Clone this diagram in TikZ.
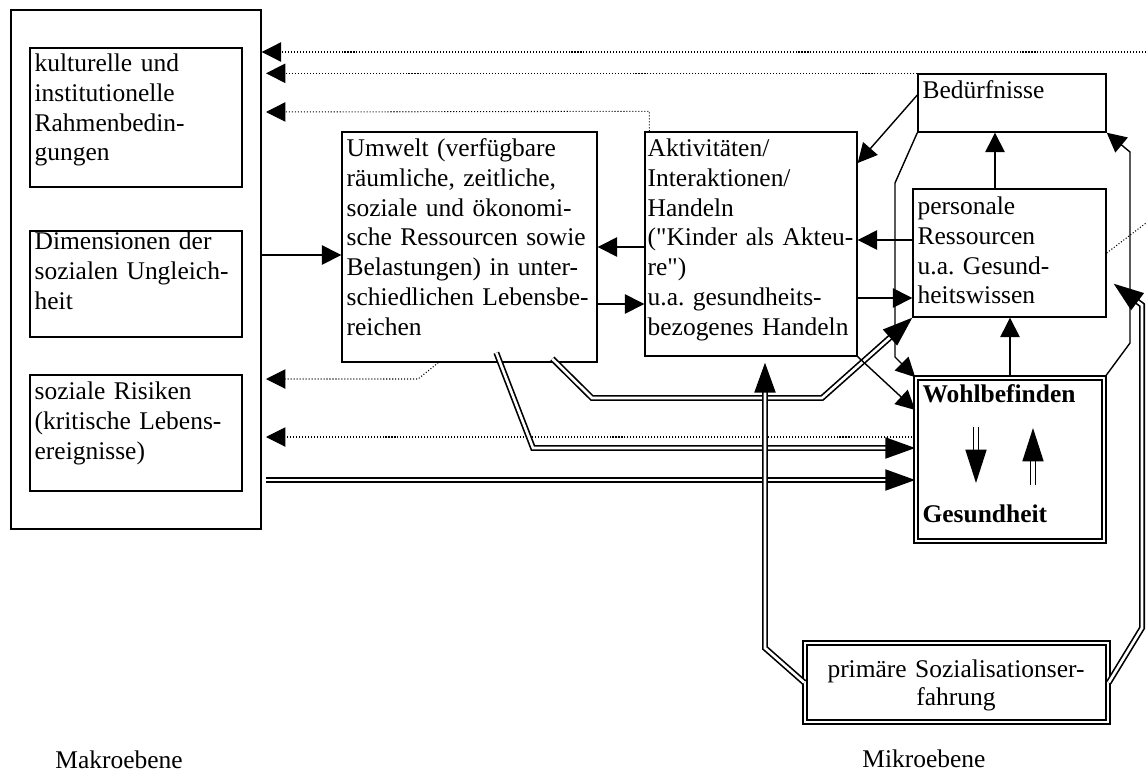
\documentclass[tikz,border=0pt]{standalone}
\usepackage{fontspec}
\setmainfont{Liberation Serif}[Ligatures=TeXOff]
\usetikzlibrary{arrows.meta,calc,fit}
\frenchspacing

\begin{document}
\begin{tikzpicture}[x=0.02cm, y=-0.02cm,
    box/.style={draw, line width=0.8pt, inner sep=0pt},
    dbox/.style={draw, line width=0.9pt, double, double distance=1.5pt, inner sep=0pt},
    txt/.style={anchor=base west, inner sep=0pt, align=left, text width=#1,
      font=\fontsize{14.5}{17}\selectfont},
    arr/.style={line width=0.8pt, -{Triangle[length=11pt, width=11pt]}},
    dotarr/.style={line width=0.6pt, dash pattern=on 0.6pt off 1.1pt,
      -{Triangle[length=11pt, width=11pt]}},
    dline/.style={line width=0.95pt, double, double distance=1.5pt},
    darr/.style={dline, -{Triangle[length=17pt, width=12pt]}},
  ]
  \useasboundingbox (0,0) rectangle (1146,771);

  % Makroebene
  \node[box, fit={(11,10)(261,529)}] (makro) {};
  \node[box, fit={(30,48)(242,187)}] (kultur) {};
  \node[txt=4.2cm] (kultur-t) at ([shift={(5,24)}]kultur.north west)
    {kulturelle und\\institutionelle\\Rahmenbedin-\\gungen};
  \node[box, fit={(30,231)(242,337)}] (dimen) {};
  \node[txt=4.2cm] (dimen-t) at ([shift={(5,19)}]dimen.north west)
    {Dimensionen der\\sozialen Ungleich-\\heit};
  \node[box, fit={(30,375)(242,491)}] (risiko) {};
  \node[txt=4.2cm] (risiko-t) at ([shift={(5,25)}]risiko.north west)
    {soziale Risiken\\(kritische Lebens-\\ereignisse)};

  % Umwelt und Handeln
  \node[box, fit={(342,132)(597,362)}] (umwelt) {};
  \node[txt=5.1cm] (umwelt-t) at ([shift={(5,25)}]umwelt.north west)
    {Umwelt (verfügbare\\räumliche, zeitliche,\\soziale und ökonomi-\\sche Ressourcen sowie\\Belastungen) in unter-\\schiedlichen Lebensbe-\\reichen};
  \node[box, fit={(645,132)(857,356)}] (akt) {};
  \node[txt=4.2cm] (akt-t) at ([shift={(3,25)}]akt.north west)
    {Aktivitäten/\\Interaktionen/\\Handeln\\("Kinder als Akteu-\\re")\\u.a. gesundheits-\\bezogenes Handeln};

  % Mikroebene
  \node[box, fit={(918,74)(1106,132)}] (bed) {};
  \node[txt=3.7cm] (bed-t) at ([shift={(5,25)}]bed.north west) {Bedürfnisse};
  \node[box, fit={(913,189)(1106,317)}] (pers) {};
  \node[txt=3.8cm] (pers-t) at ([shift={(5,26)}]pers.north west)
    {personale\\Ressourcen\\u.a. Gesund-\\heitswissen};
  \node[dbox, fit={(916,378)(1104,541)}] (wohl) {};
  \node[txt=3.6cm, font=\fontsize{14.5}{17}\selectfont\bfseries] (wohl-t) at ([shift={(7,25)}]wohl.north west) {Wohlbefinden};
  \node[txt=3.6cm, font=\fontsize{14.5}{17}\selectfont\bfseries] (ges-t) at ([shift={(7,145)}]wohl.north west) {Gesundheit};
  \node[dbox, fit={(805,643)(1108,722)}] (prim) {};
  \node[anchor=base, inner sep=0pt, align=center, text width=5.8cm,
    font=\fontsize{14.5}{16}\selectfont] (prim-t) at (956,677)
    {primäre Sozialisationser-\\fahrung};

  \node[txt=3cm] (makro-t) at (55,768) {Makroebene};
  \node[txt=3cm] (mikro-t) at (862,767) {Mikroebene};

  % Rueckwirkungen (gepunktet)
  \coordinate (rueck) at (266,0);
  \coordinate (rand1) at (1146,52);
  \coordinate (rand2) at (1146,223);
  \draw[dotarr] (rand1) -- (makro.east |- rand1);
  \draw[dotarr] (bed.north west) -- (rueck |- bed.north west);
  \draw[dotarr] ($(akt.north west)+(5,0)$) -- ++(0,-20) -- (rueck |- 0,112);
  \draw[dotarr] ($(umwelt.south west)+(97,0)$) -- (418,379) -- (rueck |- 0,379);
  \draw[dotarr] (wohl.west |- 0,437) -- (rueck |- 0,437);
  \draw[line width=0.6pt, dash pattern=on 0.6pt off 1.1pt] (pers.east |- 0,253) -- (rand2);

  % Doppellinien
  \draw[darr] (rueck |- 0,480) -- (wohl.west |- 0,480);
  \draw[darr] ($(umwelt.south west)+(155,-10)$) -- (533,448) -- (wohl.west |- 0,448);
  \draw[darr] ($(umwelt.south west)+(211,-4)$) -- (592,398) -- (822,398) -- (pers.south west);
  \draw[darr] (prim.west) -- (765,648) -- ($(akt.south -| 765,0)+(0,6)$);
  \draw[darr] (prim.east) -- (1142,628) -- (1142,305) -- ($(pers.south east)+(7,-34)$);

  % Pfeile
  \draw[arr] (makro.east |- 0,255) -- (umwelt.west |- 0,255);
  \draw[arr] (akt.west |- 0,247) -- (umwelt.east |- 0,247);
  \draw[arr] (umwelt.east |- 0,304) -- (akt.west |- 0,304);
  \draw[arr] (bed.west |- 0,95) -- (akt.east |- 0,163);
  \draw[arr] (pers.west |- 0,240) -- (akt.east |- 0,240);
  \draw[arr] (akt.east |- 0,298) -- (pers.west |- 0,298);
  \draw[arr] (pers.north -| 995,0) -- (bed.south -| 995,0);
  \draw[arr] (wohl.north -| 1010,0) -- (pers.south -| 1010,0);
  \draw[arr] (akt.south east) -- (wohl.west |- 0,410);
  \draw[arr] (bed.south west) -- (895,183) -- (895,357) -- (wohl.north west);
  \draw[arr] (wohl.north east) -- (1130,343) -- (1130,152) -- (bed.south east);

  % Wohlbefinden <-> Gesundheit
  \draw[line width=0.8pt, double, double distance=2pt, -{Triangle[length=19pt, width=12pt]}]
    (976,427) -- (976,483);
  \draw[line width=0.8pt, double, double distance=2pt, -{Triangle[length=19pt, width=12pt]}]
    (1033,485) -- (1033,428);

\end{tikzpicture}
\end{document}
